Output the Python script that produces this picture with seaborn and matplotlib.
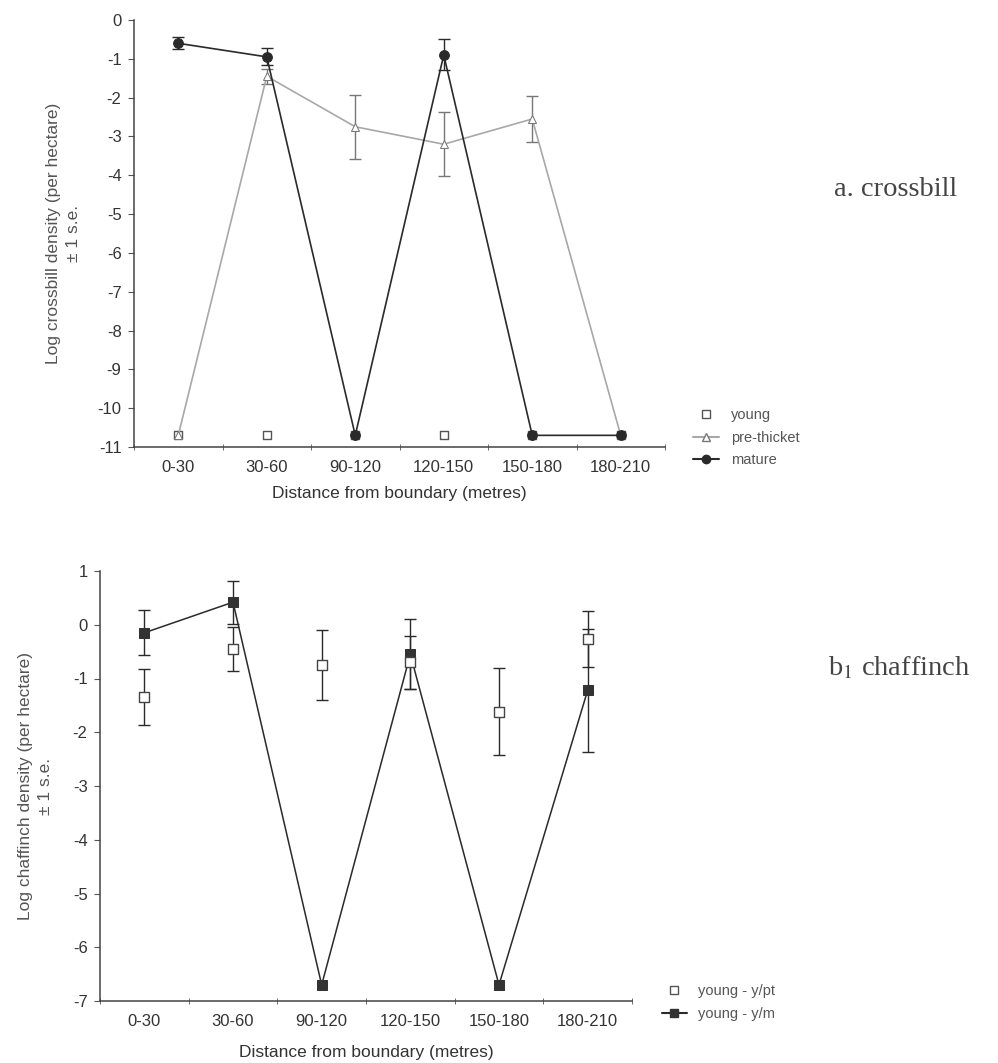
import numpy as np
import pandas as pd
import seaborn as sns
import matplotlib.pyplot as plt
from matplotlib.lines import Line2D

sns.set_style("ticks")
plt.rcParams['font.family'] = ['Liberation Sans', 'DejaVu Sans']
plt.rcParams['mathtext.fontset'] = 'stix'
plt.rcParams['axes.unicode_minus'] = False

# --- data ---
categories = ['0-30', '30-60', '90-120', '120-150', '150-180', '180-210']

# a. crossbill
young = [-10.7, -10.7, -10.7, -10.7, -10.7, -10.7]
pre_thicket = [-10.7, -1.45, -2.75, -3.2, -2.55, -10.7]
pre_thicket_se = [0, 0.2, 0.83, 0.83, 0.6, 0]
mature = [-0.6, -0.95, -10.7, -0.9, -10.7, -10.7]
mature_se = [0.15, 0.22, 0, 0.4, 0, 0]

# b. chaffinch
young_ypt = [-1.35, -0.45, -0.75, -0.7, -1.62, -0.27]
young_ypt_se = [0.52, 0.41, 0.65, 0.49, 0.81, 0.52]
young_ym = [-0.15, 0.42, -6.7, -0.55, -6.7, -1.22]
young_ym_se = [0.42, 0.4, 0, 0.65, 0, 1.15]

xpos = np.arange(len(categories)) + 0.5
txt = '#555555'
dark = '#2a2a2a'
light = '#a8a8a8'

fig = plt.figure(figsize=(9.98, 10.63), dpi=100)
ax1 = fig.add_axes([134/998, 1-447/1063, 531/998, 427/1063])
ax2 = fig.add_axes([100/998, 1-1001/1063, 532/998, 430/1063])


def errbars(ax, y, se, color):
    y = np.array(y); se = np.array(se)
    m = se > 0
    ax.errorbar(xpos[m], y[m], yerr=se[m], fmt='none', ecolor=color,
                elinewidth=1, capsize=4, capthick=1, zorder=2)


def style_axes(ax, ylim, yticks):
    ax.set_xlim(0, len(categories))
    ax.set_xticks(xpos)
    ax.set_xticklabels(categories)
    ax.set_xticks(np.arange(0, len(categories) + 1), minor=True)
    ax.tick_params(axis='x', which='major', length=0, pad=9, labelsize=12, labelcolor='#333333')
    ax.tick_params(axis='x', which='minor', length=4, direction='inout', color=txt)
    ax.set_ylim(*ylim)
    ax.set_yticks(yticks)
    ax.tick_params(axis='y', length=4, direction='out', color=txt, labelsize=12,
                   labelcolor='#333333', pad=5)
    sns.despine(ax=ax)
    for s in ['left', 'bottom']:
        ax.spines[s].set_color('#444444')
        ax.spines[s].set_linewidth(1.1)


# --- top panel ---
errbars(ax1, pre_thicket, pre_thicket_se, '#777777')
errbars(ax1, mature, mature_se, dark)
sns.lineplot(x=xpos, y=pre_thicket, ax=ax1, color=light, lw=1.2, sort=False,
             marker='^', markersize=6, markerfacecolor='white', markeredgecolor='#777777')
sns.lineplot(x=xpos, y=mature, ax=ax1, color=dark, lw=1.2, sort=False,
             marker='o', markersize=7, markerfacecolor=dark, markeredgecolor=dark)
sns.scatterplot(x=xpos, y=young, ax=ax1, marker='s', s=30, facecolor='white',
                edgecolor='#555555', linewidth=1, zorder=1)
style_axes(ax1, (-11, 0), np.arange(-11, 1, 1))
ax1.set_xlabel('Distance from boundary (metres)', fontsize=12.5, color='#333333', labelpad=8)
ax1.set_ylabel('Log crossbill density (per hectare)\n\u00b1 1 s.e.', fontsize=12.5,
               color=txt, labelpad=12, linespacing=1.4)

h1 = [Line2D([], [], ls='none', marker='s', mfc='white', mec='#555555', ms=6),
      Line2D([], [], color=light, marker='^', mfc='white', mec='#777777', ms=6),
      Line2D([], [], color=dark, marker='o', mfc=dark, mec=dark, ms=6)]
fig.legend(h1, ['young', 'pre-thicket', 'mature'], loc='upper left',
           bbox_to_anchor=(693/998, 1-408/1063), frameon=False, fontsize=10.5,
           handlelength=1.8, handletextpad=0.8, labelspacing=0.6, borderpad=0,
           borderaxespad=0, labelcolor=txt)
fig.text(834/998, 1-190/1063, 'a. crossbill', family='Liberation Serif', fontsize=20.5,
         color='#444444', va='center', ha='left')

# --- bottom panel ---
errbars(ax2, young_ypt, young_ypt_se, dark)
errbars(ax2, young_ym, young_ym_se, dark)
sns.scatterplot(x=xpos, y=young_ypt, ax=ax2, marker='s', s=45, facecolor='white',
                edgecolor='#444444', linewidth=1, zorder=4)
sns.lineplot(x=xpos, y=young_ym, ax=ax2, color=dark, lw=1.1, sort=False,
             marker='s', markersize=7, markerfacecolor='#333333', markeredgecolor='#333333')
style_axes(ax2, (-7, 1), np.arange(-7, 2, 1))
ax2.set_xlabel('Distance from boundary (metres)', fontsize=12.5, color='#333333', labelpad=12)
ax2.set_ylabel('Log chaffinch density (per hectare)\n\u00b1 1 s.e.', fontsize=12.5,
               color=txt, labelpad=14, linespacing=1.4)

h2 = [Line2D([], [], ls='none', marker='s', mfc='white', mec='#555555', ms=6),
      Line2D([], [], color=dark, marker='s', mfc='#333333', mec='#333333', ms=6)]
fig.legend(h2, ['young - y/pt', 'young - y/m'], loc='upper left',
           bbox_to_anchor=(662/998, 1-984/1063), frameon=False, fontsize=10.5,
           handlelength=1.7, handletextpad=0.8, labelspacing=0.6, borderpad=0,
           borderaxespad=0, labelcolor=txt)
fig.text(828/998, 1-668/1063, r'b$_{\mathrm{1}}$ chaffinch', family='Liberation Serif',
         fontsize=20.5, color='#444444', va='center', ha='left')

fig.savefig('out.png', dpi=100, facecolor='white')
